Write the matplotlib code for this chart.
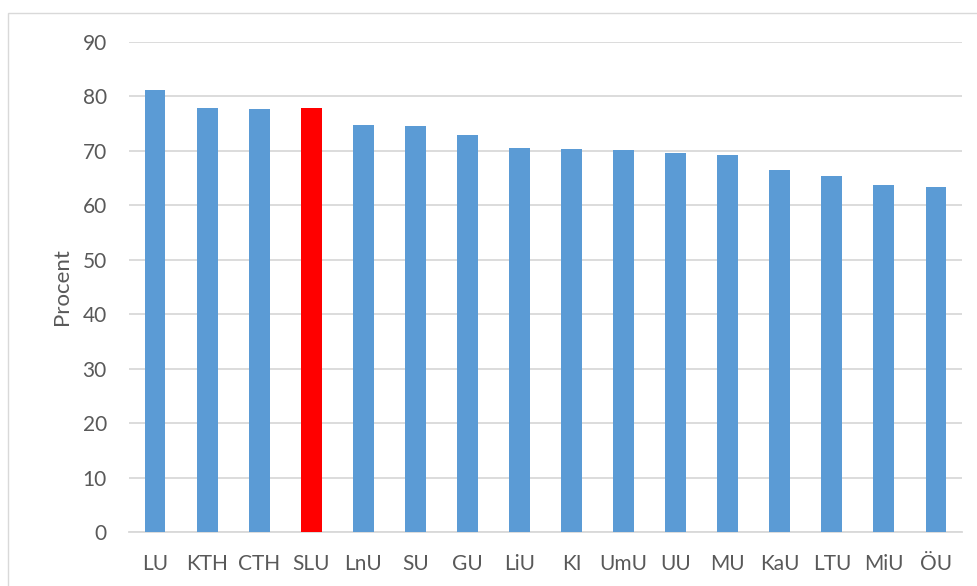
import matplotlib.pyplot as plt
from matplotlib.patches import Rectangle

# share per university (percent)
universities = ['LU', 'KTH', 'CTH', 'SLU', 'LnU', 'SU', 'GU', 'LiU', 'KI', 'UmU',
                'UU', 'MU', 'KaU', 'LTU', 'MiU', 'ÖU']
percent = [81.1, 77.8, 77.7, 77.8, 74.8, 74.5, 73.0, 70.5, 70.4, 70.2,
           69.6, 69.3, 66.5, 65.3, 63.7, 63.3]
highlight = 'SLU'
y_ticks = [0, 10, 20, 30, 40, 50, 60, 70, 80, 90]

plt.rcParams['font.family'] = ['Lato', 'DejaVu Sans']

W, H = 978, 586
fig = plt.figure(figsize=(W / 100, H / 100), dpi=100)
ax = fig.add_axes([129 / W, (H - 532) / H, (962 - 129) / W, (532 - 42) / H])

colors = ['#ff0000' if u == highlight else '#5b9bd5' for u in universities]
x = range(len(universities))
ax.bar(x, percent, width=0.4, color=colors, zorder=3)

ax.set_xlim(-0.5, len(universities) - 0.5)
ax.set_ylim(0, 90)
ax.set_yticks(y_ticks)
ax.set_xticks(list(x))
ax.set_xticklabels(universities)
ax.yaxis.grid(True, color='#d9d9d9', lw=1.3, zorder=0)
for s in ['top', 'right', 'left']:
    ax.spines[s].set_visible(False)
ax.spines['bottom'].set_color('#d9d9d9')
ax.spines['bottom'].set_linewidth(1.3)
ax.tick_params(axis='both', length=0, labelsize=15, colors='#595959')
ax.tick_params(axis='x', pad=16)
ax.tick_params(axis='y', pad=16)
fig.text(62 / W, (H - 287) / H, 'Procent', rotation=90, ha='center', va='center',
         fontsize=16, color='#595959')

# chart border
fig.patches.append(Rectangle((8 / W, -0.1), 1.2, (H - 13) / H + 0.1,
                             transform=fig.transFigure, fill=False,
                             edgecolor='#d9d9d9', lw=1))

fig.savefig('out.png', dpi=100)
